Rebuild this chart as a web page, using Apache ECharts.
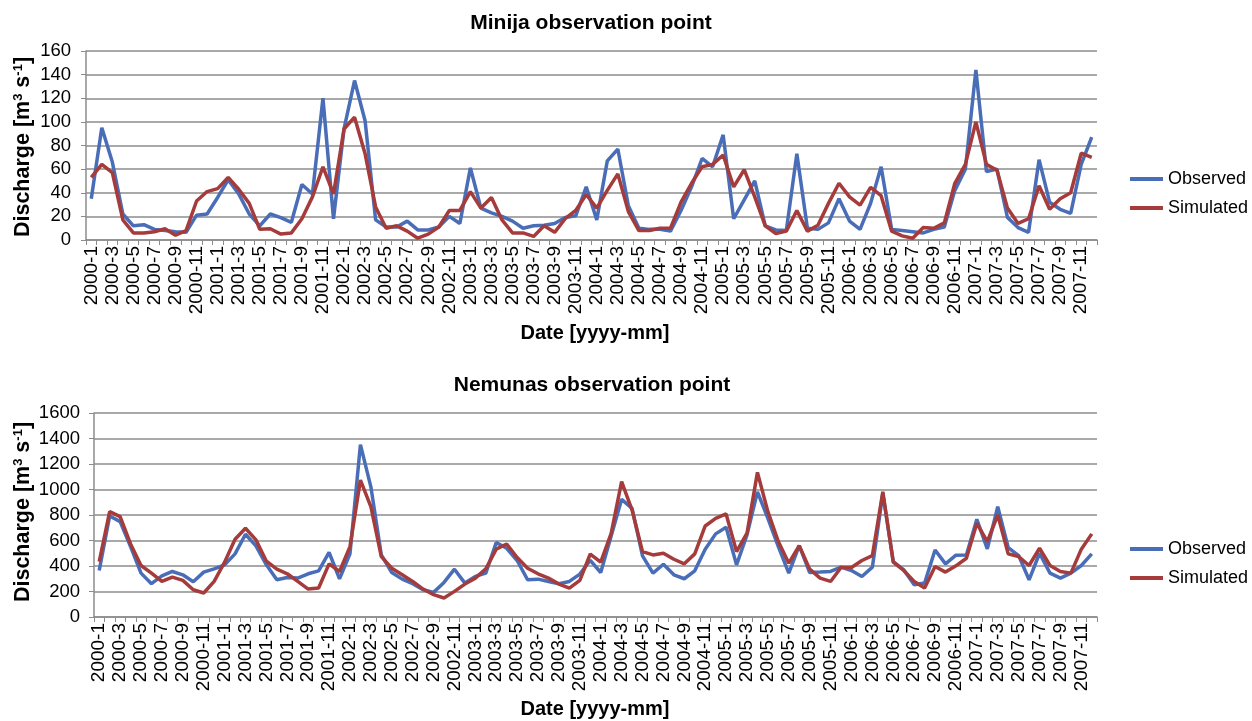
<!DOCTYPE html>
<html>
<head>
<meta charset="utf-8">
<script src="https://cdn.jsdelivr.net/npm/echarts@6/dist/echarts.min.js"></script>
<style>
html,body{margin:0;padding:0;background:#fff;}
#chart{width:1252px;height:721px;}
</style>
</head>
<body>
<div id="chart"></div>
<script>
// Categories: monthly dates 2000-1 ... 2007-12
const years = [2000, 2001, 2002, 2003, 2004, 2005, 2006, 2007];
const months = [1,2,3,4,5,6,7,8,9,10,11,12];
const categories = [];
years.forEach(y => months.forEach(m => categories.push(y + '-' + m)));

const seriesNames = ['Observed', 'Simulated'];

// Minija observation point (m3/s)
const minijaObserved = [35,95,66,22,12,13,9,8,7,6.5,21,22,36,51,39,22,12,22,19,15,47,39,120,18,
  94,135,101,17,11,11,16,8.5,8.5,11,20,14,61,27,23,20,16,10,12,12.5,14,19,20.5,45,
  17,67,77,29,10,9,9,7.5,25,45,69,62,89,18,34,50,12,8.5,8,73,10,9,14.5,35,
  16,9,31,62,9,8,7,6,9,11,42,60,144,58,60,19,10.5,6.5,68,32,26,22.5,64,87];
const minijaSimulated = [53,64,57,17,6,6,7,9.5,4,8,33,41,43.5,53,43,31,9,9.5,5,6,18,36.5,62,39,
  94,104,73,28,10,12,7.5,1.5,5,11,25,25,41,27,36,17,6,6,3,12,6.5,18,25,38.5,
  27,42,56,24,8,8,10,10,32,48,62,64,72,45,59.5,36.5,12,5.5,7.5,25,7.5,12.5,31,48,
  36.5,29.5,44.5,37.5,7.5,3.5,1.5,10.5,10,14.5,48,64,100,64,59,27,14,18,46,26,35,40,73.5,70];

// Nemunas observation point (m3/s)
const nemunasObserved = [365,792,748,552,344,261,323,357,331,276,352,378,409,495,649,558,409,292,310,305,339,362,506,300,
  495,1352,1021,487,349,297,261,214,193,271,375,266,318,344,584,539,443,292,297,279,261,279,336,445,
  349,636,923,852,480,344,414,331,300,362,532,652,704,409,644,982,774,552,344,560,349,352,357,391,
  365,318,391,969,435,370,253,266,526,417,485,487,766,534,865,545,482,292,500,344,305,344,404,495];
const nemunasSimulated = [435,826,787,573,404,344,279,313,287,214,188,279,430,610,696,605,438,375,339,279,219,227,417,357,
  552,1074,865,474,383,331,279,219,175,149,201,258,305,378,532,573,466,383,339,305,258,227,287,494,
  430,657,1061,839,513,487,500,453,417,495,714,774,808,513,657,1134,826,592,422,560,375,305,279,388,
  388,443,482,982,430,365,279,227,396,352,401,461,735,592,800,495,474,404,539,404,357,344,532,652];

// Axis ticks
const minijaAxis = {min: 0, max: 160, interval: 20};
const nemunasAxis = {min: 0, max: 1600, interval: 200};

const chartTitles = ['Minija observation point', 'Nemunas observation point'];
const xTitle = 'Date [yyyy-mm]';

const FONT = '"Liberation Sans", Arial, Helvetica, sans-serif';
const BLUE = '#4a6db7';
const RED = '#a53b3a';
const GRAY = '#8c8c8c';

function xAxisCfg(gi) {
  return {
    type: 'category', gridIndex: gi, data: categories, boundaryGap: true,
    axisLine: {show: true, lineStyle: {color: GRAY, width: 1.5}},
    axisTick: {show: true, interval: 0, length: 5, lineStyle: {color: GRAY, width: 1}},
    axisLabel: {interval: 1, rotate: 90, fontSize: 19, color: '#000', fontFamily: FONT, margin: 6},
    splitLine: {show: false}
  };
}
function yAxisCfg(gi, ax, margin) {
  return {
    type: 'value', gridIndex: gi, min: ax.min, max: ax.max, interval: ax.interval,
    axisLine: {show: true, lineStyle: {color: GRAY, width: 1.5}},
    axisTick: {show: true, length: 5, lineStyle: {color: GRAY, width: 1}},
    axisLabel: {fontSize: 18.5, color: '#000', fontFamily: FONT, margin: margin,
                formatter: v => String(v)},
    splitLine: {show: true, lineStyle: {color: GRAY, width: 1.5}}
  };
}
function lineSeries(name, gi, data, color) {
  return {
    type: 'line', name: name, xAxisIndex: gi, yAxisIndex: gi, data: data,
    symbol: 'none', smooth: false,
    lineStyle: {color: color, width: 3.5}, itemStyle: {color: color},
    animation: false
  };
}
function legendCfg(top) {
  return {
    left: 1125, top: top, orient: 'vertical', icon: 'rect',
    itemWidth: 33, itemHeight: 4, itemGap: 11, padding: 5,
    data: seriesNames,
    textStyle: {fontSize: 18, color: '#000', fontFamily: FONT},
    selectedMode: false
  };
}
const richSup = {
  sup: {fontSize: 13, fontWeight: 'bold', fontFamily: FONT, verticalAlign: 'top', padding: [0,0,9,0], fill: '#000'},
  b: {fontSize: 21.5, fontWeight: 'bold', fontFamily: FONT}
};
function textEl(txt, x, y, rot, size) {
  return {
    type: 'text', x: x, y: y, rotation: rot || 0, silent: true,
    style: {text: txt, fill: '#000', font: 'bold ' + (size || 20) + 'px ' + FONT,
            align: 'center', verticalAlign: 'middle'}
  };
}
function yTitleEl(x, y) {
  return {
    type: 'text', x: x, y: y, rotation: Math.PI / 2, silent: true,
    style: {
      text: '{b|Discharge [m}{sup|3}{b| s}{sup|-1}{b|]}',
      align: 'center', verticalAlign: 'middle', fill: '#000',
      rich: richSup
    }
  };
}

const chart = echarts.init(document.getElementById('chart'), null, {renderer: 'canvas'});
chart.setOption({
  animation: false,
  backgroundColor: '#fff',
  grid: [
    {left: 86, top: 51, width: 1011, height: 189, containLabel: false},
    {left: 94, top: 413, width: 1003, height: 204, containLabel: false}
  ],
  xAxis: [xAxisCfg(0), xAxisCfg(1)],
  yAxis: [yAxisCfg(0, minijaAxis, 15), yAxisCfg(1, nemunasAxis, 14)],
  legend: [legendCfg(165), legendCfg(535)],
  series: [
    lineSeries(seriesNames[0], 0, minijaObserved, BLUE),
    lineSeries(seriesNames[1], 0, minijaSimulated, RED),
    lineSeries(seriesNames[0], 1, nemunasObserved, BLUE),
    lineSeries(seriesNames[1], 1, nemunasSimulated, RED)
  ],
  graphic: [
    textEl(chartTitles[0], 591, 23, 0, 21),
    textEl(chartTitles[1], 592, 385, 0, 21),
    textEl(xTitle, 595, 333, 0, 20),
    textEl(xTitle, 595, 709, 0, 20),
    yTitleEl(23, 147),
    yTitleEl(23, 512)
  ]
});
</script>
</body>
</html>
